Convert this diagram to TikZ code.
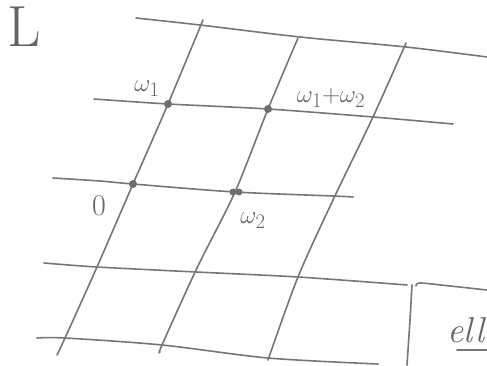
\documentclass[tikz,border=0pt]{standalone}
\begin{document}
\begin{tikzpicture}[x=1pt,y=-1pt,
  pen/.style={draw={rgb,255:red,118;green,118;blue,118},line width=1.6pt,line cap=round,line join=round},
  lbl/.style={text={rgb,255:red,100;green,100;blue,100},inner sep=0pt},
  latpt/.style={circle,fill={rgb,255:red,110;green,110;blue,110},minimum size=8pt,inner sep=0pt}]
\useasboundingbox (0,0) rectangle (487,366);
\begin{scope}
\clip (0,0) rectangle (487,366);
% horizontal lines
\draw[pen] plot[smooth,tension=0.5] coordinates {(136,18) (200,25) (300,37) (406,47) (487,57)};
\draw[pen] plot[smooth,tension=0.5] coordinates {(94,99) (168,104) (268,109) (373,117) (453,124)};
\draw[pen] plot[smooth,tension=0.5] coordinates {(53,178) (100,181) (133,184) (235,192) (333,196) (353,197)};
\draw[pen] plot[smooth,tension=0.5] coordinates {(44,263) (97,267) (196,272) (298,277) (407,285)};
\draw[pen] plot[smooth,tension=0.5] coordinates {(416,286) (420,283) (450,286) (487,290)};
\draw[pen] plot[smooth,tension=0.5] coordinates {(37,338) (65,338) (162,345) (268,358) (378,364)};
% slanted lines
\draw[pen] plot[smooth,tension=0.5] coordinates {(203,20) (168,104) (133,184) (97,267) (65,338) (57,355)};
\draw[pen] plot[smooth,tension=0.5] coordinates {(298,38) (268,109) (235,192) (197,268) (162,345) (160,352)};
\draw[pen] plot[smooth,tension=0.5] coordinates {(406,43) (373,117) (333,200) (298,277) (268,360)};
\draw[pen] plot[smooth,tension=0.5] coordinates {(412,285) (410,320) (407,365)};
% underline
\draw[pen] (457,350) -- (487,350);
% label at right edge
\node[lbl,anchor=base west] (ell) at (447,342) {\fontsize{36}{36}\selectfont\itshape ell};
\end{scope}
% lattice points
\node[latpt] (w1) at (168,104) {};
\node[latpt] (w12) at (268,109) {};
\node[latpt] (o) at (133,184) {};
\node[latpt,minimum size=7pt] (w2a) at (233,192) {};
\node[latpt,minimum size=7pt] (w2b) at (239,192) {};
% labels
\node[lbl] (Lbl) at (24,27) {\fontsize{58}{58}\selectfont L};
\node[lbl] (lw1) at (147,89) {\fontsize{30}{30}\selectfont$\omega_1$};
\node[lbl] (lw12) at (331,98) {\fontsize{28}{28}\selectfont$\omega_1{+}\omega_2$};
\node[lbl] (lo) at (99,206) {\fontsize{30}{30}\selectfont 0};
\node[lbl] (lw2) at (253,221) {\fontsize{30}{30}\selectfont$\omega_2$};
\end{tikzpicture}
\end{document}
